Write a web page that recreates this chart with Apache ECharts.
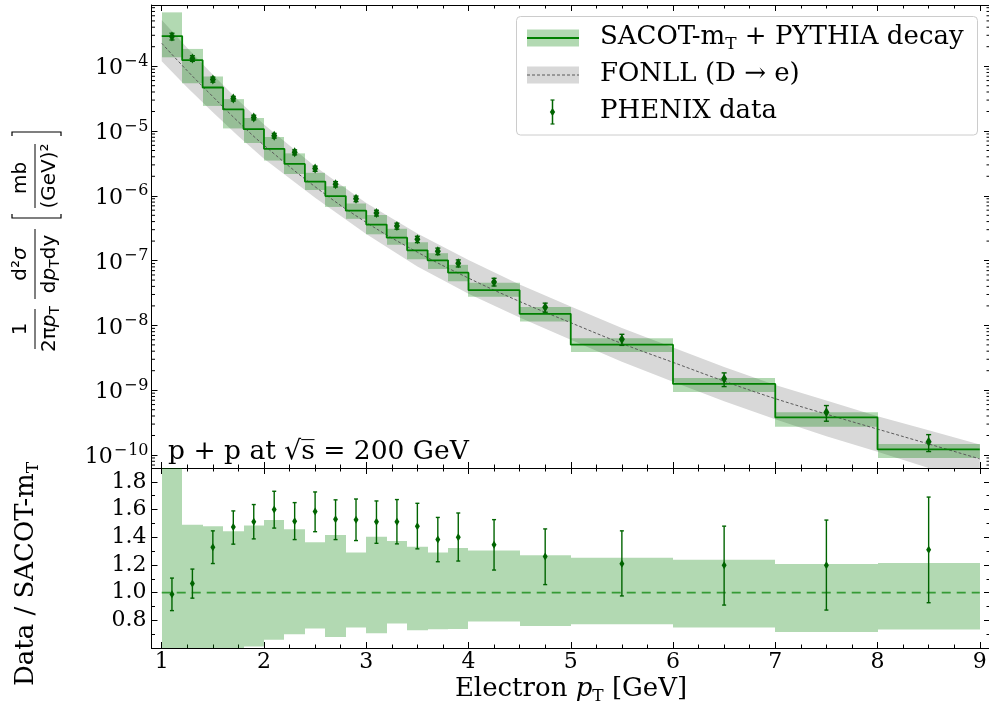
<!DOCTYPE html>
<html>
<head>
<meta charset="utf-8">
<title>Heavy-flavour electrons, p+p at 200 GeV</title>
<script src="https://cdn.jsdelivr.net/npm/echarts@6.0.0/dist/echarts.min.js"></script>
<style>
  html, body { margin: 0; padding: 0; background: #fff; }
  #main { width: 989px; height: 704px; }
</style>
</head>
<body>
<div id="main"></div>
<script>
// bin edges of the SACOT-mT histogram [GeV]
var binEdges = [1.0, 1.2, 1.4, 1.6, 1.8, 2.0, 2.2, 2.4, 2.6, 2.8, 3.0, 3.2, 3.4, 3.6, 3.8, 4.0, 4.5, 5.0, 6.0, 7.0, 8.0, 9.0];
// SACOT-mT + PYTHIA decay, central value per bin [mb/GeV^2]
var sacot = [2.92e-4, 1.24e-4, 4.69e-5, 2.15e-5, 1.07e-5, 5.3e-6, 3.1e-6, 1.66e-6, 9.9e-7, 5.9e-7, 3.6e-7,
             2.26e-7, 1.44e-7, 1.01e-7, 6.5e-8, 3.49e-8, 1.51e-8, 5.04e-9, 1.25e-9, 3.8e-10, 1.22e-10];
// its band, as ratio to the central value (lower panel)
var sacotHi = [2.32, 1.49, 1.48, 1.444, 1.485, 1.524, 1.458, 1.364, 1.417, 1.29, 1.403,
               1.372, 1.332, 1.29, 1.323, 1.305, 1.27, 1.252, 1.238, 1.206, 1.213];
var sacotLo = [0.47, 0.44, 0.52, 0.51, 0.61, 0.66, 0.70, 0.741, 0.68, 0.748, 0.707,
               0.777, 0.729, 0.736, 0.738, 0.792, 0.758, 0.772, 0.748, 0.716, 0.734];

// PHENIX data: pT, Data / SACOT-mT and its error bar
var dataPt = [1.1, 1.3, 1.5, 1.7, 1.9, 2.1, 2.3, 2.5, 2.7, 2.9, 3.1, 3.3, 3.5, 3.7, 3.9, 4.25, 4.75, 5.5, 6.5, 7.5, 8.5];
var dataRatio = [0.988, 1.065, 1.327, 1.473, 1.512, 1.60, 1.516, 1.585, 1.529, 1.526, 1.512,
                 1.512, 1.48, 1.383, 1.40, 1.345, 1.26, 1.209, 1.197, 1.197, 1.31];
var dataRatioLo = [0.87, 0.96, 1.21, 1.35, 1.388, 1.466, 1.383, 1.44, 1.383, 1.376, 1.356,
                   1.352, 1.316, 1.223, 1.228, 1.163, 1.058, 0.976, 0.91, 0.874, 0.927];
var dataRatioHi = [1.105, 1.17, 1.446, 1.59, 1.636, 1.732, 1.65, 1.727, 1.67, 1.676, 1.662,
                   1.672, 1.645, 1.543, 1.575, 1.527, 1.46, 1.446, 1.48, 1.524, 1.69];

// FONLL (D -> e) central curve and band
var fonllPt = [1.0, 1.25, 1.5, 1.75, 2.0, 2.5, 3.0, 3.5, 4.0, 4.5, 5.0, 5.5, 6.0, 6.5, 7.0, 7.5, 8.0, 8.5, 9.0];
var fonll = [2.26e-4, 8.5e-5, 3.39e-5, 1.38e-5, 6.03e-6, 1.38e-6, 3.89e-7, 1.35e-7, 5.37e-8, 2.34e-8,
             1.10e-8, 5.25e-9, 2.69e-9, 1.38e-9, 7.41e-10, 4.27e-10, 2.51e-10, 1.48e-10, 8.71e-11];
var fonllHi = [5.18e-4, 1.91e-4, 7.41e-5, 2.95e-5, 1.26e-5, 2.82e-6, 7.76e-7, 2.63e-7, 1.02e-7, 4.27e-8,
               1.95e-8, 9.12e-9, 4.57e-9, 2.29e-9, 1.20e-9, 6.92e-10, 3.98e-10, 2.40e-10, 1.45e-10];
var fonllLo = [1.19e-4, 4.68e-5, 1.95e-5, 8.32e-6, 3.72e-6, 9.33e-7, 2.57e-7, 8.13e-8, 3.09e-8, 1.32e-8,
               6.03e-9, 2.75e-9, 1.35e-9, 6.76e-10, 3.55e-10, 1.95e-10, 1.12e-10, 6.31e-11, 3.63e-11];

// tick labels
var xTicks = [1, 2, 3, 4, 5, 6, 7, 8, 9];
var logTicks = [-10, -9, -8, -7, -6, -5, -4];
var ratioTicks = [0.8, 1.0, 1.2, 1.4, 1.6, 1.8];

var SERIF = 'DejaVu Serif';
var SANS = 'DejaVu Sans';
var GREEN = '#008000';
var DARK = '#006400';
var BAND = 'rgba(0,128,0,0.3)';
var GREY = '#d8d8d8';

// build series data
var nb = sacot.length;
var bandTop = [], bandRatio = [], stepData = [];
for (var i = 0; i < nb; i++) {
    bandTop.push([binEdges[i], binEdges[i + 1], sacot[i] * sacotLo[i], sacot[i] * sacotHi[i]]);
    bandRatio.push([binEdges[i], binEdges[i + 1], sacotLo[i], sacotHi[i]]);
    stepData.push([binEdges[i], sacot[i]]);
}
stepData.push([binEdges[nb], sacot[nb - 1]]);

var ptsTop = [], errTop = [], ptsRatio = [], errRatio = [];
for (var j = 0; j < dataPt.length; j++) {
    ptsTop.push([dataPt[j], sacot[j] * dataRatio[j]]);
    errTop.push([dataPt[j], sacot[j] * dataRatioLo[j], sacot[j] * dataRatioHi[j]]);
    ptsRatio.push([dataPt[j], dataRatio[j]]);
    errRatio.push([dataPt[j], dataRatioLo[j], dataRatioHi[j]]);
}
var fonllBand = fonllPt.map(function (x, k) { return [x, fonllLo[k], fonllHi[k]]; });
var fonllLine = fonllPt.map(function (x, k) { return [x, fonll[k]]; });

// minor ticks of the log axis (2..9 x 10^n)
var logMinor = [];
for (var n = -11; n <= -4; n++) {
    for (var m = 2; m <= 9; m++) {
        var v = m * Math.pow(10, n);
        if (v > 6.3e-11 && v < 8.8e-4) logMinor.push([1, v]);
    }
}

function bandItem(params, api) {
    var p0 = api.coord([api.value(0), api.value(3)]);
    var p1 = api.coord([api.value(1), api.value(2)]);
    var x0 = Math.round(p0[0]), x1 = Math.round(p1[0]);
    return {
        type: 'rect',
        shape: {x: x0, y: p0[1], width: x1 - x0, height: p1[1] - p0[1]},
        style: {fill: BAND}
    };
}

function errItem(cap, lw) {
    return function (params, api) {
        var x = api.value(0);
        var lo = api.coord([x, api.value(1)]);
        var hi = api.coord([x, api.value(2)]);
        var st = {stroke: DARK, lineWidth: lw};
        return {
            type: 'group',
            children: [
                {type: 'line', shape: {x1: lo[0], y1: lo[1], x2: hi[0], y2: hi[1]}, style: st},
                {type: 'line', shape: {x1: lo[0] - cap, y1: lo[1], x2: lo[0] + cap, y2: lo[1]}, style: st},
                {type: 'line', shape: {x1: hi[0] - cap, y1: hi[1], x2: hi[0] + cap, y2: hi[1]}, style: st}
            ]
        };
    };
}

function xAxisOf(grid, pos, labels) {
    return {
        type: 'value', gridIndex: grid, position: pos, min: 0.9, max: 9.1, splitNumber: 8,
        axisLine: {show: true, onZero: false, lineStyle: {color: '#000', width: 1}},
        axisTick: {show: true, inside: true, length: 6, lineStyle: {color: '#000'}},
        minorTick: {show: true, splitNumber: 4, length: 3.5, lineStyle: {color: '#000'}},
        splitLine: {show: false},
        axisLabel: {
            show: labels, margin: 3, color: '#000', fontFamily: SERIF, fontSize: 22,
            formatter: function (v) {
                var r = Math.round(v * 100) / 100;
                return xTicks.indexOf(r) >= 0 ? String(r) : '';
            }
        }
    };
}

function logAxisOf(pos, labels) {
    return {
        type: 'log', gridIndex: 0, position: pos, min: 6.3e-11, max: 8.8e-4, logBase: 10,
        axisLine: {show: true, onZero: false, lineStyle: {color: '#000', width: 1}},
        axisTick: {show: true, inside: true, length: 6, lineStyle: {color: '#000'}},
        minorTick: {show: false},
        splitLine: {show: false},
        axisLabel: {
            show: labels, margin: 3, color: '#000', fontFamily: SERIF, fontSize: 22, lineHeight: 30,
            padding: [5, 0, 0, 0],
            formatter: function (v) {
                var e = Math.round(Math.log(v) / Math.LN10);
                if (Math.abs(Math.log(v) / Math.LN10 - e) > 1e-4 || logTicks.indexOf(e) < 0) return '';
                return '10{m|−}{e|' + String(-e) + '}';
            },
            rich: {
                m: {fontFamily: SERIF, fontSize: 16, lineHeight: 18, verticalAlign: 'top', padding: [0, 1, 0, 1]},
                e: {fontFamily: SERIF, fontSize: 16, lineHeight: 18, verticalAlign: 'top'}
            }
        }
    };
}

function ratioAxisOf(pos, labels) {
    return {
        type: 'value', gridIndex: 1, position: pos, min: 0.6, max: 1.9, interval: 0.2,
        axisLine: {show: true, onZero: false, lineStyle: {color: '#000', width: 1}},
        axisTick: {show: true, inside: true, length: 6, lineStyle: {color: '#000'}},
        minorTick: {show: true, splitNumber: 2, length: 3.5, lineStyle: {color: '#000'}},
        splitLine: {show: false},
        axisLabel: {
            show: labels, margin: 5, color: '#000', fontFamily: SERIF, fontSize: 22,
            formatter: function (v) {
                var r = Math.round(v * 10) / 10;
                for (var q = 0; q < ratioTicks.length; q++) {
                    if (Math.abs(ratioTicks[q] - v) < 1e-6) return r.toFixed(1);
                }
                return '';
            }
        }
    };
}

// --- text helpers for the graphic layer
function sansText(x, y, text, va) {
    return {
        type: 'text', x: x, y: y,
        style: {
            text: text, fill: '#000', fontFamily: SANS, fontSize: 20, lineHeight: 25,
            textAlign: 'center', textVerticalAlign: va,
            rich: {
                i: {fontFamily: SANS, fontSize: 20, fontStyle: 'italic', lineHeight: 25},
                s: {fontFamily: SANS, fontSize: 14, lineHeight: 14, verticalAlign: 'bottom'}
            }
        }
    };
}
function fracBar(x0, x1) {
    return {type: 'line', shape: {x1: x0, y1: 0, x2: x1, y2: 0}, style: {stroke: '#000', lineWidth: 1}};
}
function serifText(x, y, text, align, rot, size) {
    var fs = size || 26;
    return {
        type: 'text', x: x, y: y, rotation: rot || 0, z: 100,
        style: {
            text: text, fill: '#000', fontFamily: SERIF, fontSize: fs, lineHeight: 33,
            textAlign: align, textVerticalAlign: 'middle',
            rich: {
                i: {fontFamily: SERIF, fontSize: fs, fontStyle: 'italic', lineHeight: 33},
                s: {fontFamily: SERIF, fontSize: 17, lineHeight: 17, verticalAlign: 'bottom'}
            }
        }
    };
}

var graphics = [
    // y label of the spectrum panel
    {
        type: 'group', x: 35, y: 240, rotation: Math.PI / 2,
        children: [
            sansText(-89, -2, '1', 'bottom'),
            fracBar(-109, -69),
            sansText(-89, 2, '2π{i|p}{s|T}', 'top'),
            sansText(-24, -2, 'd²{i|σ}', 'bottom'),
            fracBar(-59, 11),
            sansText(-24, 2, 'd{i|p}{s|T}dy', 'top'),
            {type: 'polyline', shape: {points: [[26, -23], [22, -23], [22, 26], [26, 26]]}, style: {stroke: '#000', lineWidth: 1.2, fill: null}},
            sansText(62, -2, 'mb', 'bottom'),
            fracBar(32, 96),
            sansText(64, 2, '(GeV)²', 'top'),
            {type: 'polyline', shape: {points: [[104, -23], [108, -23], [108, 26], [104, 26]]}, style: {stroke: '#000', lineWidth: 1.2, fill: null}}
        ]
    },
    serifText(26, 574, 'Data / SACOT-m{s|T}', 'center', Math.PI / 2),
    serifText(571, 689, 'Electron {i|p}{s|T} [GeV]', 'center'),
    serifText(168, 452, 'p + p at √s\u0305 = 200 GeV', 'left', 0, 26.5),
    // legend
    {
        type: 'rect', z: 90,
        shape: {x: 516.5, y: 16.5, width: 461, height: 118.5, r: 4},
        style: {fill: 'rgba(255,255,255,0.8)', stroke: '#cccccc', lineWidth: 1}
    },
    {type: 'rect', z: 91, shape: {x: 527, y: 29.5, width: 52, height: 17}, style: {fill: BAND}},
    {type: 'line', z: 92, shape: {x1: 527, y1: 38, x2: 579, y2: 38}, style: {stroke: GREEN, lineWidth: 1.8}},
    {type: 'rect', z: 91, shape: {x: 527, y: 66.5, width: 52, height: 17}, style: {fill: GREY}},
    {type: 'line', z: 92, shape: {x1: 527, y1: 75, x2: 579, y2: 75}, style: {stroke: '#5a5a5a', lineWidth: 1, lineDash: [3, 2]}},
    {type: 'line', z: 92, shape: {x1: 552.5, y1: 100, x2: 552.5, y2: 124}, style: {stroke: DARK, lineWidth: 1.5}},
    {type: 'line', z: 92, shape: {x1: 550.5, y1: 100, x2: 554.5, y2: 100}, style: {stroke: DARK, lineWidth: 1.2}},
    {type: 'line', z: 92, shape: {x1: 550.5, y1: 124, x2: 554.5, y2: 124}, style: {stroke: DARK, lineWidth: 1.2}},
    {type: 'polygon', z: 92, shape: {points: [[552.5, 108], [555.2, 112], [552.5, 116], [549.8, 112]]}, style: {fill: DARK}},
    serifText(600, 37, 'SACOT-m{s|T} + PYTHIA decay', 'left'),
    serifText(600, 74, 'FONLL (D → e)', 'left'),
    serifText(600, 111, 'PHENIX data', 'left')
];

var chart = echarts.init(document.getElementById('main'));
var option = {
    animation: false,
    backgroundColor: '#fff',
    grid: [
        {left: 151.5, right: -1, top: 5, height: 463, containLabel: false, outerBoundsMode: 'none'},
        {left: 151.5, right: -1, top: 468, height: 180, containLabel: false, outerBoundsMode: 'none'}
    ],
    xAxis: [
        xAxisOf(0, 'bottom', false),
        xAxisOf(0, 'top', false),
        xAxisOf(1, 'bottom', true),
        xAxisOf(1, 'top', false)
    ],
    yAxis: [
        logAxisOf('left', true),
        logAxisOf('right', false),
        ratioAxisOf('left', true),
        ratioAxisOf('right', false)
    ],
    series: [
        {
            // FONLL band
            type: 'custom', xAxisIndex: 0, yAxisIndex: 0, z: 1, clip: true, silent: true,
            data: fonllBand, encode: {x: 0, y: [1, 2]},
            renderItem: function (params, api) {
                if (params.dataIndex !== 0) return;
                var pts = [], k;
                for (k = 0; k < fonllPt.length; k++) pts.push(api.coord([fonllPt[k], fonllHi[k]]));
                for (k = fonllPt.length - 1; k >= 0; k--) pts.push(api.coord([fonllPt[k], fonllLo[k]]));
                return {type: 'polygon', shape: {points: pts}, style: {fill: GREY}};
            }
        },
        {
            // SACOT band, spectrum
            type: 'custom', xAxisIndex: 0, yAxisIndex: 0, z: 2, clip: true, silent: true,
            data: bandTop, encode: {x: [0, 1], y: [2, 3]}, renderItem: bandItem
        },
        {
            type: 'line', xAxisIndex: 0, yAxisIndex: 0, z: 3, silent: true,
            data: fonllLine, smooth: 0.4, showSymbol: false,
            lineStyle: {color: '#5a5a5a', width: 1, type: [3, 2]}
        },
        {
            type: 'line', xAxisIndex: 0, yAxisIndex: 0, z: 4, silent: true,
            data: stepData, step: 'end', showSymbol: false,
            lineStyle: {color: GREEN, width: 1.8}
        },
        {
            type: 'custom', xAxisIndex: 0, yAxisIndex: 0, z: 5, clip: true, silent: true,
            data: errTop, encode: {x: 0, y: [1, 2]}, renderItem: errItem(2.5, 1.4)
        },
        {
            type: 'scatter', xAxisIndex: 0, yAxisIndex: 0, z: 6, silent: true,
            data: ptsTop, symbol: 'diamond', symbolSize: [6, 10],
            itemStyle: {color: DARK, opacity: 1}
        },
        {
            // log minor ticks on both sides
            type: 'custom', xAxisIndex: 0, yAxisIndex: 0, z: 10, silent: true,
            data: logMinor, encode: {x: 0, y: 1},
            renderItem: function (params, api) {
                var p = api.coord([1, api.value(1)]);
                var cs = params.coordSys;
                var st = {stroke: '#000', lineWidth: 1};
                return {
                    type: 'group',
                    children: [
                        {type: 'line', shape: {x1: cs.x, y1: p[1], x2: cs.x + 3.5, y2: p[1]}, style: st},
                        {type: 'line', shape: {x1: cs.x + cs.width - 3.5, y1: p[1], x2: cs.x + cs.width, y2: p[1]}, style: st}
                    ]
                };
            }
        },
        {
            // SACOT band, ratio
            type: 'custom', xAxisIndex: 2, yAxisIndex: 2, z: 2, clip: true, silent: true,
            data: bandRatio, encode: {x: [0, 1], y: [2, 3]}, renderItem: bandItem
        },
        {
            type: 'line', xAxisIndex: 2, yAxisIndex: 2, z: 3, silent: true,
            data: [[binEdges[0], 1], [binEdges[nb], 1]], showSymbol: false,
            lineStyle: {color: 'rgba(0,128,0,0.7)', width: 1.8, type: [9, 6]}
        },
        {
            type: 'custom', xAxisIndex: 2, yAxisIndex: 2, z: 5, clip: true, silent: true,
            data: errRatio, encode: {x: 0, y: [1, 2]}, renderItem: errItem(2, 1.4)
        },
        {
            type: 'scatter', xAxisIndex: 2, yAxisIndex: 2, z: 6, silent: true,
            data: ptsRatio, symbol: 'diamond', symbolSize: [5, 8],
            itemStyle: {color: DARK, opacity: 1}
        }
    ],
    graphic: {elements: graphics}
};
chart.setOption(option);
</script>
</body>
</html>
